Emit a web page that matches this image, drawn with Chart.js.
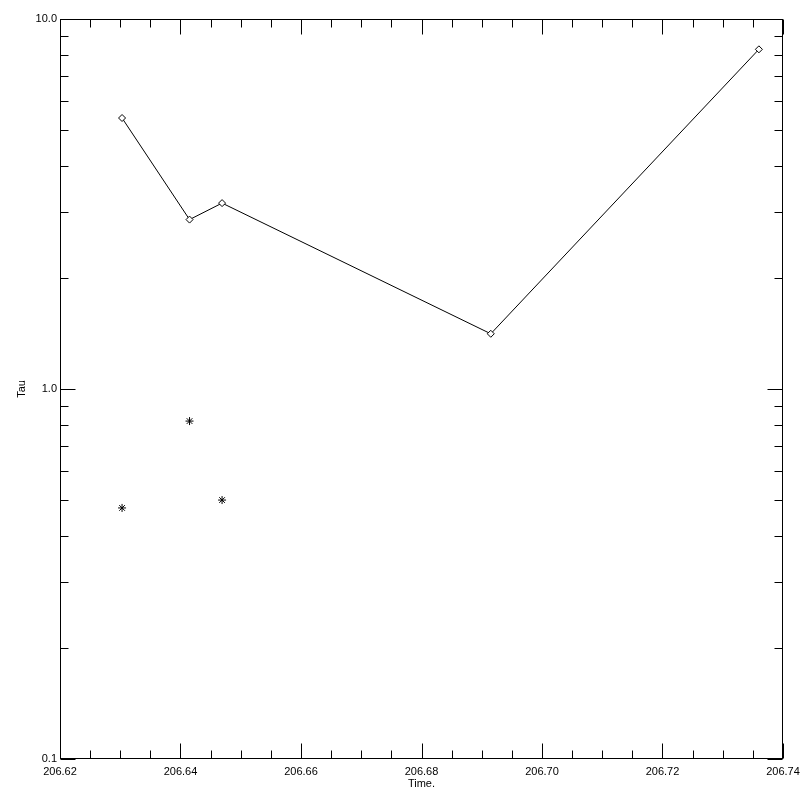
<!DOCTYPE html>
<html>
<head>
<meta charset="utf-8">
<script src="https://cdn.jsdelivr.net/npm/chart.js@4/dist/chart.umd.min.js"></script>
<style>
  body { margin: 0; background: #fff; }
  #wrap { width: 800px; height: 800px; }
</style>
</head>
<body>
<div id="wrap"><canvas id="tauChart" width="800" height="800"></canvas></div>
<script>
// Data
const lineTimes = [206.6303, 206.6415, 206.6469, 206.6915, 206.7360];
const lineTau = [5.40, 2.87, 3.18, 1.41, 8.28];
const starTimes = [206.6303, 206.6415, 206.6469];
const starTau = [0.477, 0.819, 0.501];

// Axis ticks
const xMajorTicks = [206.62, 206.64, 206.66, 206.68, 206.70, 206.72, 206.74];
const xMinorTicks = [206.625, 206.63, 206.635, 206.645, 206.65, 206.655, 206.665, 206.67, 206.675,
  206.685, 206.69, 206.695, 206.705, 206.71, 206.715, 206.725, 206.73, 206.735];
const yMajorTicks = [0.1, 1, 10];
const yMinorTicks = [0.2, 0.3, 0.4, 0.5, 0.6, 0.7, 0.8, 0.9, 2, 3, 4, 5, 6, 7, 8, 9];

const FONT = "'Liberation Sans', Arial, sans-serif";

// Draws the frame and inward tick marks on all four sides
const frameTicks = {
  id: "frameTicks",
  afterDraw(chart) {
    const ctx = chart.ctx;
    const a = chart.chartArea;
    const xs = chart.scales.x, ys = chart.scales.y;
    const L = Math.round(a.left) + 0.5, R = Math.round(a.right) - 0.5;
    const T = Math.round(a.top) + 0.5, B = Math.round(a.bottom) - 0.5;
    ctx.save();
    ctx.strokeStyle = "#000";
    ctx.lineWidth = 1;
    ctx.strokeRect(L, T, R - L, B - T);
    ctx.beginPath();
    const xTick = (v, len) => {
      const px = Math.round(xs.getPixelForValue(v)) + 0.5;
      ctx.moveTo(px, B); ctx.lineTo(px, B - len);
      ctx.moveTo(px, T); ctx.lineTo(px, T + len);
    };
    const yTick = (v, len) => {
      const py = Math.round(ys.getPixelForValue(v)) + 0.5;
      ctx.moveTo(L, py); ctx.lineTo(L + len, py);
      ctx.moveTo(R, py); ctx.lineTo(R - len, py);
    };
    xMajorTicks.forEach(v => xTick(v, 15));
    xMinorTicks.forEach(v => xTick(v, 8));
    yMajorTicks.forEach(v => yTick(v, 15));
    yMinorTicks.forEach(v => yTick(v, 8));
    ctx.stroke();
    ctx.restore();
  }
};

new Chart(document.getElementById("tauChart").getContext("2d"), {
  type: "scatter",
  data: {
    datasets: [
      {
        data: lineTimes.map((t, i) => ({ x: t, y: lineTau[i] })),
        showLine: true,
        borderColor: "#000",
        borderWidth: 1,
        pointStyle: "rectRot",
        pointRadius: 3.5,
        pointBorderWidth: 1,
        pointBorderColor: "#000",
        pointBackgroundColor: "#fff"
      },
      {
        data: starTimes.map((t, i) => ({ x: t, y: starTau[i] })),
        showLine: false,
        pointStyle: "star",
        pointRadius: 4,
        pointBorderWidth: 1,
        pointBorderColor: "#000",
        pointBackgroundColor: "#000"
      }
    ]
  },
  options: {
    responsive: false,
    animation: false,
    devicePixelRatio: 1,
    layout: { padding: { top: 19, right: 17, left: 0, bottom: 0 } },
    plugins: { legend: { display: false }, tooltip: { enabled: false } },
    scales: {
      x: {
        type: "linear",
        min: 206.62,
        max: 206.74,
        grid: { display: false, drawTicks: false },
        border: { display: false },
        afterBuildTicks: s => { s.ticks = xMajorTicks.map(v => ({ value: v })); },
        afterFit: s => { s.height = 41; s.paddingLeft = 0; s.paddingRight = 0; },
        ticks: {
          autoSkip: false,
          maxRotation: 0,
          padding: 6,
          color: "#000",
          font: { family: FONT, size: 11 },
          callback: v => Number(v).toFixed(2)
        },
        title: {
          display: true,
          text: "Time.",
          color: "#000",
          font: { family: FONT, size: 11 },
          padding: { top: 0, bottom: 9 }
        }
      },
      y: {
        type: "logarithmic",
        min: 0.1,
        max: 10,
        grid: { display: false, drawTicks: false },
        border: { display: false },
        afterBuildTicks: s => { s.ticks = yMajorTicks.map(v => ({ value: v })); },
        afterFit: s => { s.width = 60; s.paddingTop = 0; s.paddingBottom = 0; },
        ticks: {
          autoSkip: false,
          padding: 3,
          color: "#000",
          font: { family: FONT, size: 11 },
          callback: v => Number(v).toFixed(1)
        },
        title: {
          display: true,
          text: "Tau",
          color: "#000",
          font: { family: FONT, size: 11 },
          padding: { top: 15, bottom: 0 }
        }
      }
    }
  },
  plugins: [frameTicks]
});
</script>
</body>
</html>
